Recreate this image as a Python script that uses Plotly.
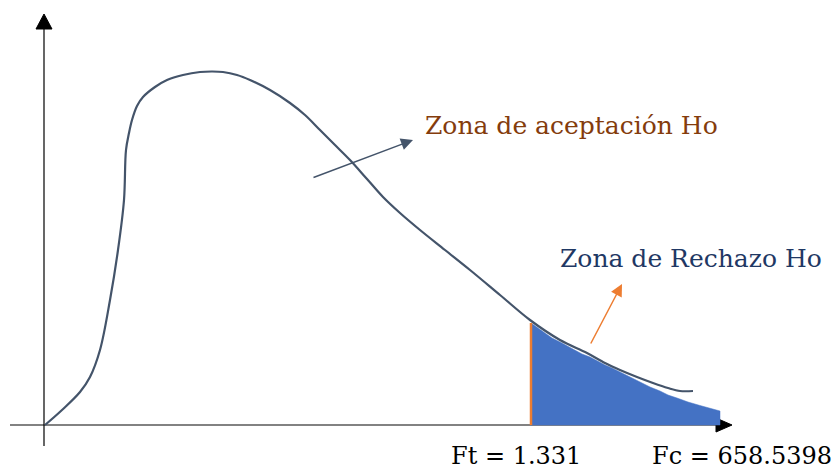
import plotly.graph_objects as go

# Schematic F-distribution curve (canvas units, y grows downward)
curve_x = [45, 62, 80, 90, 100, 110, 118, 124, 126, 129, 132, 137, 143, 155, 167, 183, 200, 212, 223, 237, 250, 270, 290, 305, 320, 335, 350, 367, 383, 400, 420, 445, 470, 500, 530, 560, 587, 605, 620, 637, 653, 668, 680, 693]
curve_y = [425, 410, 392, 377, 350, 300, 250, 200, 150, 133, 120, 106, 97, 87, 80, 75, 72, 71.5, 72, 75, 80, 90, 103, 115, 130, 145, 160, 179, 197, 213, 230, 250, 270, 295, 320, 340, 353, 363, 370, 377, 383, 388, 391, 391]

# Rejection region (blue)
rej_x = [531, 531, 538, 545, 552, 560, 567, 575, 582, 590, 597, 605, 612, 620, 630, 640, 650, 660, 668, 677, 688, 700, 710, 720, 720, 531]
rej_y = [425, 323, 328, 333, 338, 342, 346, 350, 354, 357, 361, 365, 368, 372, 377, 382, 387, 391, 395, 398, 402, 405.5, 408.5, 411, 425, 425]

# Critical line at Ft
ft_x = [531, 531]
ft_y = [323, 425]

# Axes
xaxis_x = [10, 720]
xaxis_y = [425, 425]
yaxis_x = [44, 44]
yaxis_y = [446, 28]
xhead_x = [716, 732, 716, 716]
xhead_y = [418, 425, 432, 418]
yhead_x = [36, 44, 52, 36]
yhead_y = [29, 14, 29, 29]

labels = ["Zona de aceptación Ho", "Zona de Rechazo Ho", "Ft = 1.331", "Fc = 658.5398"]
label_x = [423, 558, 449, 650]
label_y = [125, 258, 456, 456]
label_sizes = [25, 25, 24, 24]
label_colors = ["#843C0C", "#1F3864", "#000000", "#000000"]

arrow_from = [(312, 178), (590, 345)]
arrow_to = [(413, 140), (622, 284)]
arrow_colors = ["#44546A", "#ED7D31"]

fig = go.Figure()

fig.add_trace(go.Scatter(x=xaxis_x, y=xaxis_y, mode="lines",
                         line=dict(color="#595959", width=1.5), hoverinfo="skip"))
fig.add_trace(go.Scatter(x=yaxis_x, y=yaxis_y, mode="lines",
                         line=dict(color="#000000", width=1.2), hoverinfo="skip"))
fig.add_trace(go.Scatter(x=xhead_x, y=xhead_y, mode="lines", fill="toself",
                         fillcolor="#000000", line=dict(color="#000000", width=1), hoverinfo="skip"))
fig.add_trace(go.Scatter(x=yhead_x, y=yhead_y, mode="lines", fill="toself",
                         fillcolor="#000000", line=dict(color="#000000", width=1), hoverinfo="skip"))

fig.add_trace(go.Scatter(x=rej_x, y=rej_y, mode="lines", fill="toself",
                         fillcolor="#4472C4", line=dict(color="#4472C4", width=0.5), hoverinfo="skip"))
fig.add_trace(go.Scatter(x=curve_x, y=curve_y, mode="lines", line_shape="spline",
                         line=dict(color="#44546A", width=2.2), hoverinfo="skip"))
fig.add_trace(go.Scatter(x=ft_x, y=ft_y, mode="lines",
                         line=dict(color="#ED7D31", width=2.5), hoverinfo="skip"))

for (x0, y0), (x1, y1), c in zip(arrow_from, arrow_to, arrow_colors):
    fig.add_annotation(x=x1, y=y1, ax=x0, ay=y0, xref="x", yref="y", axref="x", ayref="y",
                       showarrow=True, arrowhead=2, arrowsize=1.6, arrowwidth=1.5,
                       arrowcolor=c, text="")

for t, x, y, s, c in zip(labels, label_x, label_y, label_sizes, label_colors):
    fig.add_annotation(x=x, y=y, xref="x", yref="y", text=t, showarrow=False,
                       xanchor="left", yanchor="middle",
                       font=dict(family="DejaVu Serif", size=s, color=c))

fig.update_layout(
    width=839, height=471,
    margin=dict(l=0, r=0, t=0, b=0),
    paper_bgcolor="white", plot_bgcolor="white",
    showlegend=False,
    xaxis=dict(range=[0, 839], visible=False, fixedrange=True),
    yaxis=dict(range=[471, 0], visible=False, fixedrange=True),
)

fig.write_html("out.html", config={"staticPlot": True},
               post_script="document.body.style.margin='0';document.body.style.overflow='hidden';")
